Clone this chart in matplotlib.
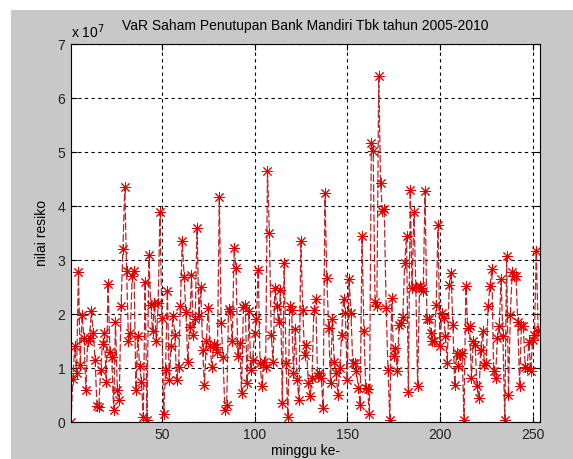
import numpy as np
import matplotlib.pyplot as plt
from matplotlib.patches import Rectangle
from matplotlib.ticker import FuncFormatter

plt.rcParams.update({'font.size': 10, 'font.family': ['Liberation Sans', 'DejaVu Sans']})

# VaR values per week (in units of 1e7)
var_part1 = [0, 0.8, 1.4, 0.9, 2.78, 1.05, 1.98, 1.55, 0.6, 1.5, 1.55, 2.05, 1.65,
             1.15, 0.3, 0.28, 0.97, 1.45, 1.65, 0.75, 2.55, 1.3, 1.2, 0.22, 1.85,
             0.6, 0.4, 2.15, 3.2, 4.35, 2.8, 1.5, 1.65, 2.7, 2.8, 0.6, 1.6, 1.03,
             0.75, 0.1, 2.6, 0.03, 3.1]
var_part2 = [2.17, 1.68, 2.2, 1.5, 2.2, 3.88, 1.93, 0.15, 0.97, 2.42, 0.78, 1.41,
             1.97, 1.62, 0.77, 1.02, 2.14, 3.36, 2.68, 2.03, 1.12, 1.76, 2.73, 1.62,
             1.9, 3.59, 1.97, 2.5, 1.34, 0.68, 1.5, 2.11, 1.4, 1.02, 1.45, 1.38,
             1.29, 4.17, 1.83, 1.2, 0.23, 0.32, 2.1, 2.06, 1.5]
var_part3 = [3.22, 2.85, 1.22, 1.46, 0.54, 2.13, 2.17, 0.72, 2.05, 0.97, 1.15, 1.65,
             1.9, 2.82, 1.09, 0.66, 1.12, 1.02, 4.64, 3.5, 1.62, 1.12, 2.48, 2.14,
             1.85, 2.45, 0.35, 2.95, 1.09, 0.1, 2.14, 2.08, 0.9, 1.72, 0.78, 0.41,
             3.35, 2.08, 1.25, 1.43, 0.72, 0.48, 0.81, 2.08]
var_part4 = [2.27, 0.85, 0.9, 0.81, 0.26, 4.24, 2.67, 1.74, 0.73, 1.9, 1.12, 0.9,
             0.5, 1.0, 1.62, 2.28, 2.02, 0.77, 2.64, 2.02, 1.09, 1.1, 0.94, 0.63,
             0.32, 3.44, 1.68, 0.63, 0.61, 0.14, 5.17, 5.01, 2.23, 2.15, 6.4, 4.42,
             3.9, 3.94, 2.11, 0.97, 0.03, 2.3, 1.22, 1.37, 0.94, 1.8]
var_part5 = [1.83, 1.94, 2.94, 3.45, 0.55, 4.3, 2.48, 3.88, 2.5, 0.66, 2.51, 2.48,
             2.42, 4.27, 1.9, 1.9, 1.65, 1.5, 1.5, 2.17, 3.65, 1.41, 2.02, 1.93,
             1.59, 1.1, 2.54, 2.76, 1.8, 0.69, 1.28, 1.03, 1.25, 1.28, 0.04, 2.51,
             1.74, 1.77, 0.81, 1.5, 1.43, 0.66, 0.44, 1.34, 1.68, 1.06]
var_part6 = [1.1, 2.15, 2.51, 2.83, 0.94, 0.81, 1.55, 1.78, 2.64, 1.59, 0.03, 3.07,
             0.5, 1.99, 2.77, 2.71, 2.7, 1.86, 0.66, 1.78, 1.77, 1.02, 1.0, 1.48,
             0.94, 1.52, 1.62, 3.16, 1.68, 1.7]

var_values = np.array(var_part1 + var_part2 + var_part3 + var_part4 + var_part5 + var_part6) * 1e7
weeks = np.arange(1, len(var_values) + 1)

fig = plt.figure(figsize=(5.73, 4.59), dpi=100)
fig.patch.set_facecolor('white')
# matlab grey window area
fig.patches.append(Rectangle((11 / 573, 0), 1, 1 - 10 / 459, transform=fig.transFigure,
                             facecolor='#c8c8c8', edgecolor='none', zorder=-10))
ax = fig.add_axes([71 / 573, 37 / 459, 469 / 573, 378 / 459])

# matlab style '*' marker = 8-armed asterisk
ax.plot(weeks, var_values, color='#b8262a', linestyle=(0, (6, 2)), linewidth=0.9,
        marker=(8, 2, 0), markersize=8, markeredgewidth=0.7, markeredgecolor='#e00000')

ax.set_xlim(1, len(var_values))
ax.set_ylim(0, 7e7)
ax.set_xticks([50, 100, 150, 200, 250])
ax.set_yticks(np.arange(0, 8) * 1e7)
ax.yaxis.set_major_formatter(FuncFormatter(lambda v, p: '%d' % round(v / 1e7)))
ax.tick_params(direction='in', top=True, right=True, length=4, labelsize=10, pad=4,
               labelcolor='#222222')
ax.grid(True, color='black', linestyle=(0, (3, 3)), linewidth=0.8)
for s in ax.spines.values():
    s.set_linewidth(0.8)

ax.text(0, 1.008, r'x 10$^{7}$', transform=ax.transAxes, ha='left', va='bottom', fontsize=10)
ax.set_title('VaR Saham Penutupan Bank Mandiri Tbk tahun 2005-2010', fontsize=10, pad=10)
ax.set_xlabel('minggu ke-', labelpad=2)
ax.set_ylabel('nilai resiko', labelpad=6)

plt.savefig('out.png', dpi=100)
